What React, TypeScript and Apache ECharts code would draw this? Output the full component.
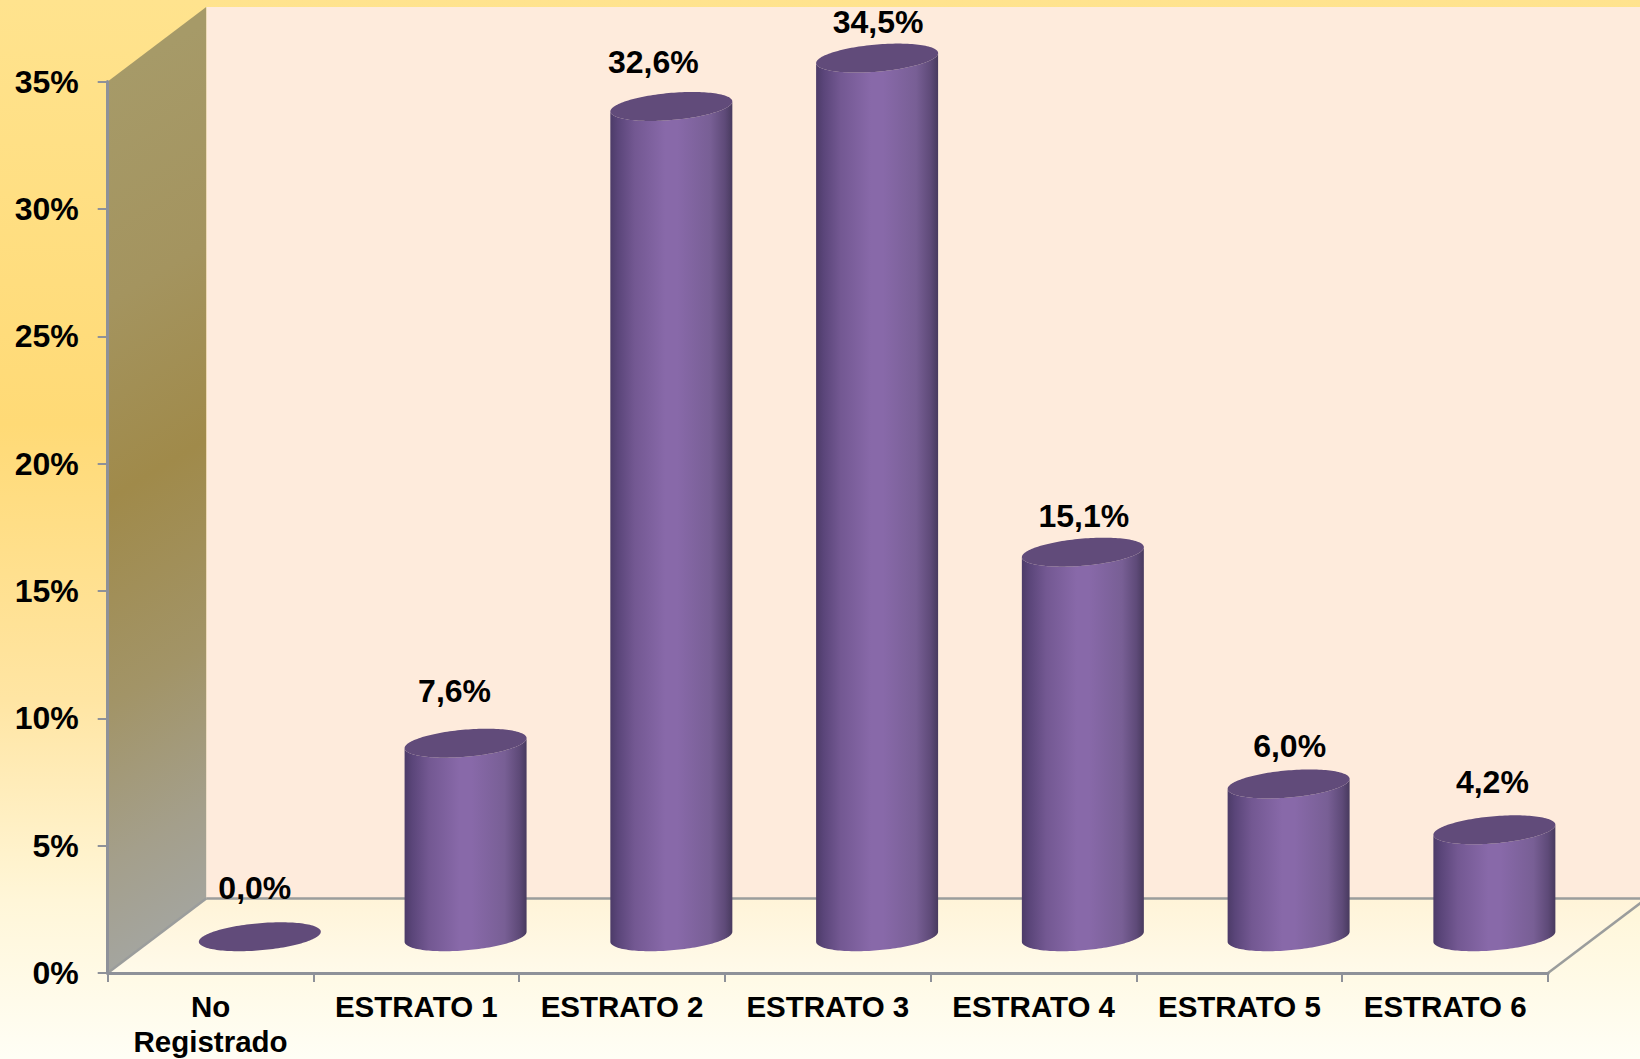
import React, { useEffect, useRef } from "react";
import * as echarts from "echarts";

const categories = ["No\nRegistrado", "ESTRATO 1", "ESTRATO 2", "ESTRATO 3", "ESTRATO 4", "ESTRATO 5", "ESTRATO 6"];
const values = [0.0, 7.6, 32.6, 34.5, 15.1, 6.0, 4.2];
const valueLabels = ["0,0%", "7,6%", "32,6%", "34,5%", "15,1%", "6,0%", "4,2%"];

// manual offsets of the value labels from the cylinder's top centre
const labelDx = [-5, -11, -18, 1, 1, 1, -2];
const labelDy = [-49, -52, -44, -36, -36, -38, -48];

const W = 1640;
const H = 1059;
const GRID = { left: 107.7, top: 81.6, right: 1548, bottom: 973 };
const DEPTH_X = 98.5;
const DEPTH_Y = 74.5;
const CYL_DY = 1;
const R_X = 61;
const TILT = 5;
const R_Y = 13.6;
const FONT = '"Liberation Sans", Arial, sans-serif';

const ellipsePoint = (cx: number, cy: number, t: number) => [
  cx + R_X * Math.cos(t),
  cy - TILT * Math.cos(t) + R_Y * Math.sin(t),
];

const bodyFill = new echarts.graphic.LinearGradient(0, 0, 1, 0, [
  { offset: 0, color: "#4c3b68" },
  { offset: 0.06, color: "#5a4579" },
  { offset: 0.2, color: "#735892" },
  { offset: 0.45, color: "#8869a9" },
  { offset: 0.55, color: "#8869a9" },
  { offset: 0.82, color: "#785f95" },
  { offset: 0.94, color: "#5e4a78" },
  { offset: 1, color: "#483a5e" },
]);

const renderCylinder = (params: any, api: any) => {
  const i = api.value(0);
  const v = api.value(1);
  const top = api.coord([i, v]);
  const base = api.coord([i, 0]);
  const cx = top[0] + DEPTH_X / 2;
  const yTop = top[1] - DEPTH_Y / 2 + CYL_DY;
  const yBase = base[1] - DEPTH_Y / 2 + CYL_DY;

  const children: any[] = [];
  const N = 72;
  if (v > 0) {
    const body: number[][] = [];
    for (let k = 0; k <= N; k++) body.push(ellipsePoint(cx, yBase, (Math.PI * k) / N));
    for (let k = N; k >= 0; k--) body.push(ellipsePoint(cx, yTop, (Math.PI * k) / N));
    children.push({ type: "polygon", shape: { points: body }, style: { fill: bodyFill } });
  }
  const cap: number[][] = [];
  for (let k = 0; k < N * 2; k++) cap.push(ellipsePoint(cx, yTop, (Math.PI * k) / N));
  children.push({ type: "polygon", shape: { points: cap }, style: { fill: "#614b7a" } });
  children.push({
    type: "text",
    x: cx + labelDx[i],
    y: yTop + labelDy[i],
    style: {
      text: valueLabels[i],
      fill: "#000",
      font: `bold 32px ${FONT}`,
      align: "center",
      verticalAlign: "middle",
    },
  });
  return { type: "group", children };
};

export default function App() {
  const ref = useRef<HTMLDivElement>(null);
  useEffect(() => {
    document.body.style.margin = "0";
    const chart = echarts.init(ref.current!, undefined, { renderer: "svg" });
    const axisColor = "#8e9199";
    const sideColor = "#9b9d9c";
    chart.setOption({
      animation: false,
      backgroundColor: new echarts.graphic.LinearGradient(0, 0, 0, 1, [
        { offset: 0, color: "#ffe38e" },
        { offset: 0.4, color: "#ffda76" },
        { offset: 0.66, color: "#ffe5a3" },
        { offset: 0.85, color: "#fff6d8" },
        { offset: 1, color: "#fffef5" },
      ]),
      graphic: [
        { type: "rect", z: -5, shape: { x: GRID.left + DEPTH_X, y: GRID.top - DEPTH_Y, width: W, height: GRID.bottom - GRID.top }, style: { fill: "#feebdc" } },
        {
          type: "polygon", z: -5,
          shape: { points: [[GRID.left, GRID.bottom], [GRID.left + DEPTH_X, GRID.bottom - DEPTH_Y], [GRID.right + DEPTH_X, GRID.bottom - DEPTH_Y], [GRID.right, GRID.bottom]] },
          style: { fill: new echarts.graphic.LinearGradient(0, 0, 0, 1, [{ offset: 0, color: "#fff4d8" }, { offset: 1, color: "#fffaea" }]) },
        },
        {
          type: "polygon", z: -5,
          shape: { points: [[GRID.left, GRID.top], [GRID.left + DEPTH_X, GRID.top - DEPTH_Y], [GRID.left + DEPTH_X, GRID.bottom - DEPTH_Y], [GRID.left, GRID.bottom]] },
          style: {
            fill: new echarts.graphic.LinearGradient(107, 80, 503, 733, [
              { offset: 0, color: "#a69a68" },
              { offset: 0.25, color: "#a4945f" },
              { offset: 0.47, color: "#a08a4a" },
              { offset: 0.7, color: "#a29467" },
              { offset: 0.88, color: "#a49f8b" },
              { offset: 1, color: "#a4a59f" },
            ], true),
          },
        },
        { type: "line", z: -4, shape: { x1: GRID.left + DEPTH_X, y1: GRID.bottom - DEPTH_Y, x2: W, y2: GRID.bottom - DEPTH_Y }, style: { stroke: sideColor, lineWidth: 2.5 } },
        { type: "line", z: -4, shape: { x1: GRID.left, y1: GRID.bottom, x2: GRID.left + DEPTH_X, y2: GRID.bottom - DEPTH_Y }, style: { stroke: sideColor, lineWidth: 2.5 } },
        { type: "line", z: -4, shape: { x1: GRID.right, y1: GRID.bottom, x2: GRID.right + DEPTH_X, y2: GRID.bottom - DEPTH_Y }, style: { stroke: sideColor, lineWidth: 2.5 } },
      ],
      grid: { left: GRID.left, top: GRID.top, width: GRID.right - GRID.left, height: GRID.bottom - GRID.top },
      xAxis: {
        type: "category",
        data: categories,
        boundaryGap: true,
        axisLine: { lineStyle: { color: axisColor, width: 3 } },
        axisTick: { show: true, alignWithLabel: false, length: 9, lineStyle: { color: axisColor, width: 2 } },
        axisLabel: { interval: 0, color: "#000", fontFamily: FONT, fontWeight: "bold", fontSize: 29.5, lineHeight: 35, margin: 16 },
        splitLine: { show: false },
      },
      yAxis: {
        type: "value",
        min: 0,
        max: 35,
        interval: 5,
        axisLine: { show: true, lineStyle: { color: axisColor, width: 3 } },
        axisTick: { show: true, length: 10, lineStyle: { color: axisColor, width: 2 } },
        axisLabel: { formatter: "{value}%", color: "#000", fontFamily: FONT, fontWeight: "bold", fontSize: 32, margin: 29, padding: [3, 0, 0, 0] },
        splitLine: { show: false },
      },
      series: [
        {
          type: "custom",
          renderItem: renderCylinder,
          encode: { x: 0, y: 1 },
          data: values.map((v, i) => [i, v]),
          clip: false,
        },
      ],
    });
    return () => chart.dispose();
  }, []);
  return <div ref={ref} style={{ width: W, height: H, overflow: "hidden" }} />;
}
